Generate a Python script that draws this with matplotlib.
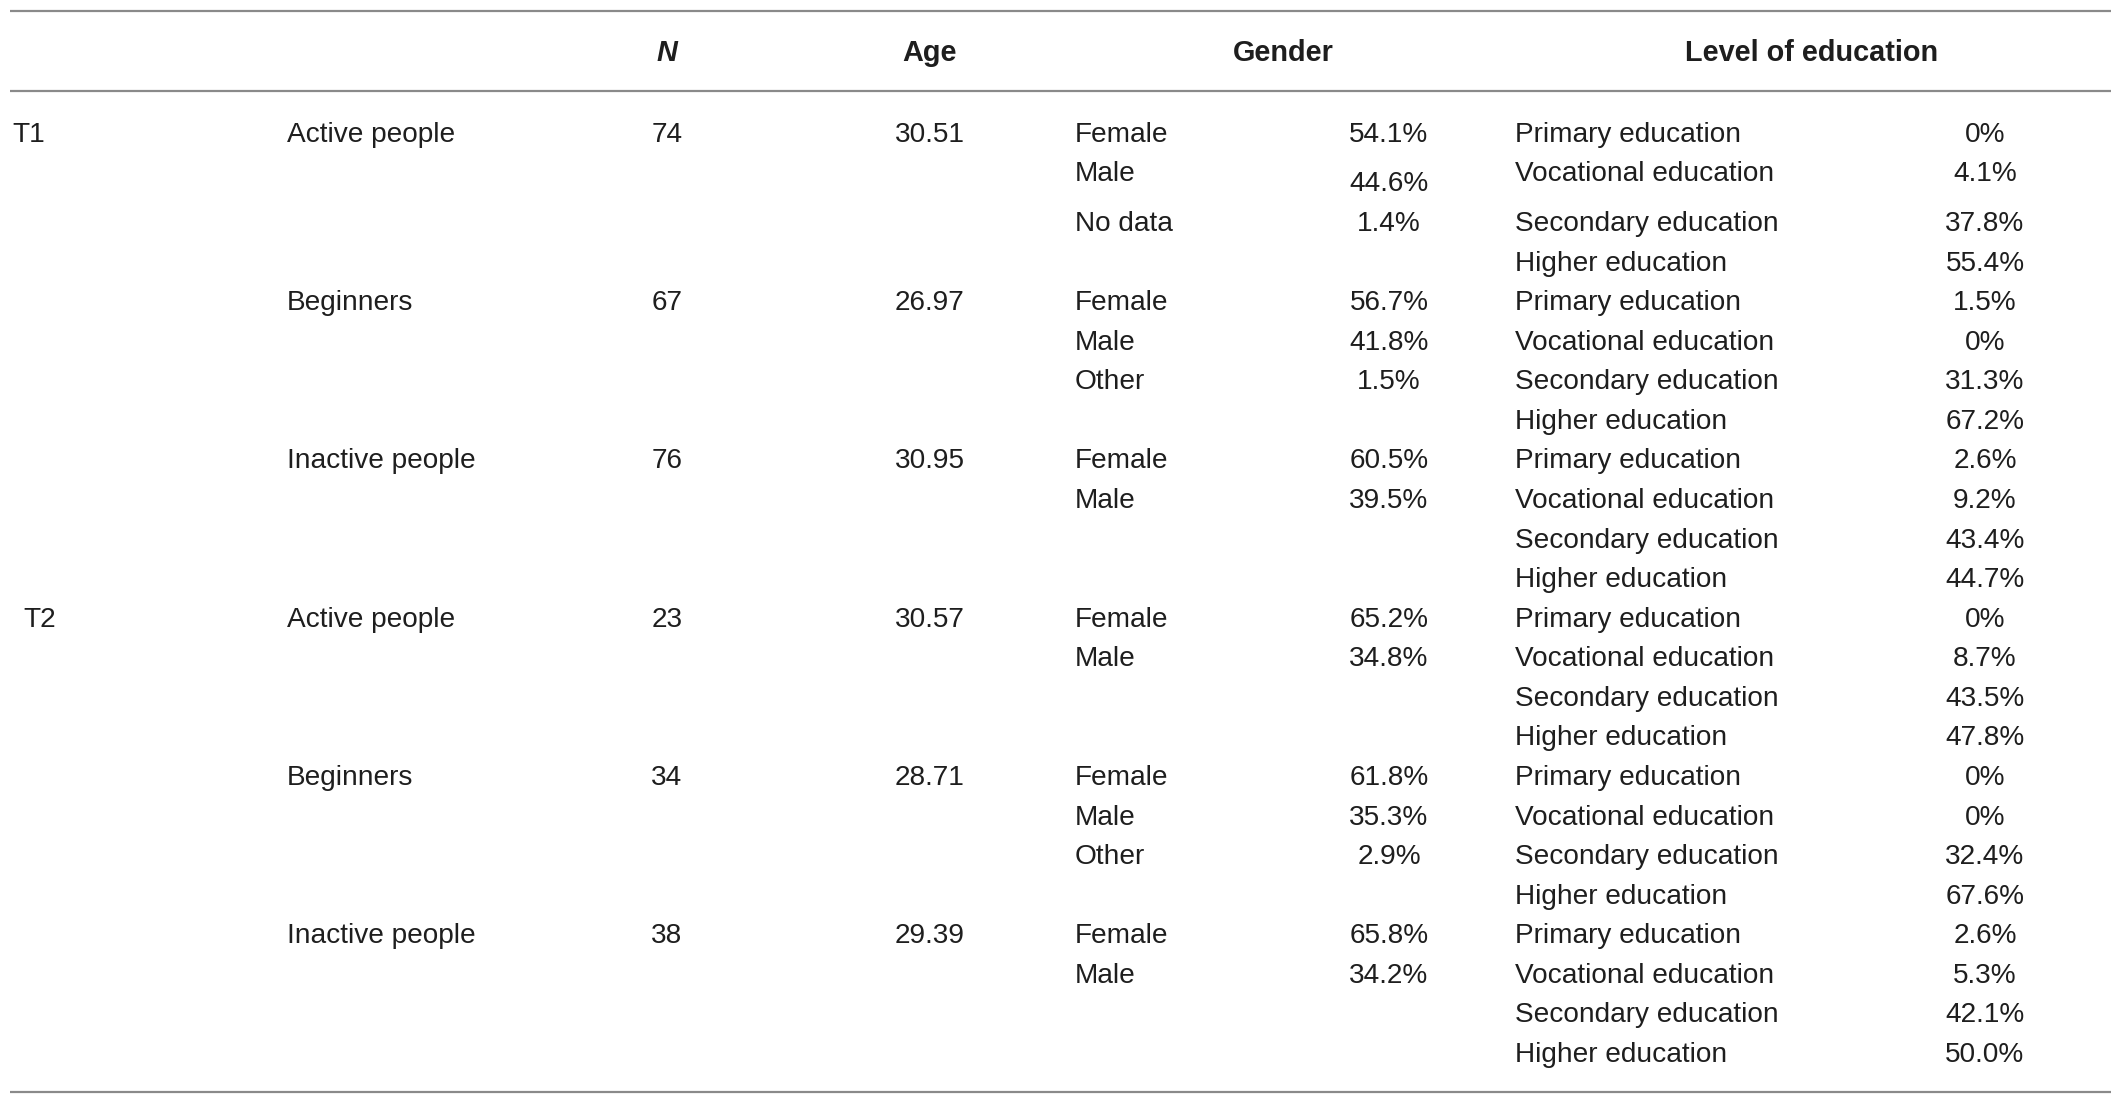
import matplotlib
matplotlib.use("Agg")
import matplotlib.pyplot as plt

# ---------------- data ----------------
headers = ["N", "Age", "Gender", "Level of education"]
periods = ["T1", "T2"]
groups = ["Active people", "Beginners", "Inactive people",
          "Active people", "Beginners", "Inactive people"]
n_values = [74, 67, 76, 23, 34, 38]
ages = [30.51, 26.97, 30.95, 30.57, 28.71, 29.39]

gender_labels = [
    ["Female", "Male", "No data"],
    ["Female", "Male", "Other"],
    ["Female", "Male"],
    ["Female", "Male"],
    ["Female", "Male", "Other"],
    ["Female", "Male"],
]
gender_pct = [
    [54.1, 44.6, 1.4],
    [56.7, 41.8, 1.5],
    [60.5, 39.5],
    [65.2, 34.8],
    [61.8, 35.3, 2.9],
    [65.8, 34.2],
]
edu_labels = ["Primary education", "Vocational education",
              "Secondary education", "Higher education"]
edu_pct = [
    [0, 4.1, 37.8, 55.4],
    [1.5, 0, 31.3, 67.2],
    [2.6, 9.2, 43.4, 44.7],
    [0, 8.7, 43.5, 47.8],
    [0, 0, 32.4, 67.6],
    [2.6, 5.3, 42.1, 50.0],
]

# ---------------- layout ----------------
W, H = 2118, 1103
FONT = ["Liberation Sans", "DejaVu Sans"]
FS = 20.2
FS_HEAD = 20.8
TXT = "#1e1e1e"
LINE = "#8a8a8a"

fig = plt.figure(figsize=(W / 100, H / 100), dpi=100)
ax = fig.add_axes([0, 0, 1, 1])
ax.set_xlim(0, W)
ax.set_ylim(H, 0)
ax.axis("off")


def row_y(r):
    if r == 0:
        return 141.7
    if r == 1:
        return 181.0
    return 231.0 + (r - 2) * 39.57


def fmt(v):
    return "0%" if v == 0 else f"{v:.1f}%"


def put(x, y, s, ha="left", fs=FS, **kw):
    ax.text(x, y, s, ha=ha, va="baseline", fontsize=fs, family=FONT,
            color=TXT, **kw)


# rules
for y in (10.5, 90.5, 1092):
    ax.plot([10, 2111], [y, y], color=LINE, lw=1.6, solid_capstyle="butt")

# header
hx = [667, 930, 1283, 1812]
for i, (x, h) in enumerate(zip(hx, headers)):
    put(x, 61, h, ha="center", fs=FS_HEAD, weight="bold",
        style="italic" if i == 0 else "normal")

# columns
x_period = [12, 23]
x_group = 287
x_n = 667
x_age = 930
x_glab = 1075
x_gpct = 1389
x_elab = 1515
x_epct = 1985

for g in range(len(groups)):
    r0 = g * 4
    y0 = row_y(r0)
    if g % 3 == 0:
        put(x_period[g // 3], y0, periods[g // 3])
    put(x_group, y0, groups[g])
    put(x_n, y0, str(n_values[g]), ha="center")
    put(x_age, y0, f"{ages[g]:.2f}", ha="center")
    for k, (lab, v) in enumerate(zip(gender_labels[g], gender_pct[g])):
        y = row_y(r0 + k)
        put(x_glab, y, lab)
        dy = 10 if (g == 0 and k == 1) else 0
        put(x_gpct, y + dy, fmt(v), ha="center")
    for k, (lab, v) in enumerate(zip(edu_labels, edu_pct[g])):
        y = row_y(r0 + k)
        put(x_elab, y, lab)
        put(x_epct, y, fmt(v), ha="center")

fig.savefig("out.png", dpi=100, facecolor="white")
